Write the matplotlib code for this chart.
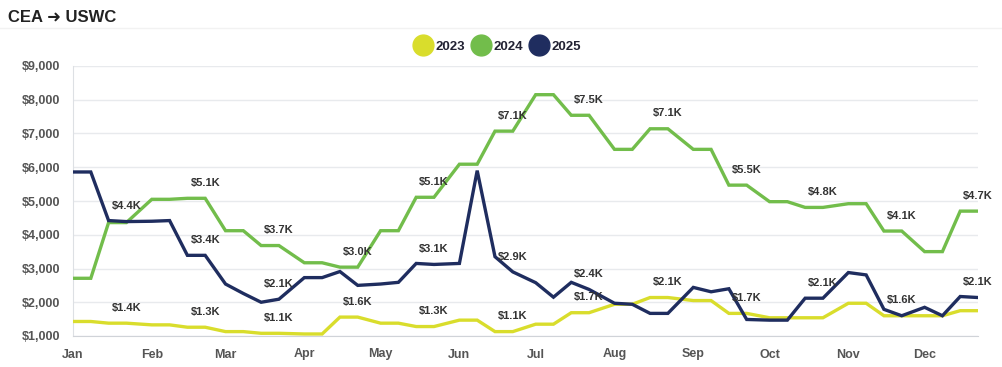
import matplotlib
matplotlib.use("Agg")
import matplotlib.pyplot as plt
import matplotlib.dates as mdates
from matplotlib.lines import Line2D
from matplotlib.ticker import FuncFormatter
import numpy as np

plt.rcParams['font.family'] = ['Liberation Sans', 'DejaVu Sans']

# weekly-ish points: 1st, 8th, 15th, 22nd of each month
days = [1, 8, 15, 22]
dates = [np.datetime64(f"2024-{m:02d}-{d:02d}") for m in range(1, 13) for d in days]

y2023 = [1430, 1430, 1380, 1380, 1330, 1330, 1260, 1260, 1130, 1130, 1080, 1080,
         1060, 1060, 1560, 1560, 1380, 1380, 1280, 1280, 1470, 1470, 1130, 1130,
         1350, 1350, 1690, 1690, 1940, 1940, 2140, 2140, 2050, 2050, 1670, 1670,
         1540, 1540, 1540, 1540, 1970, 1970, 1600, 1600, 1600, 1600, 1750, 1750]
y2024 = [2710, 2710, 4360, 4360, 5050, 5050, 5080, 5080, 4120, 4120, 3680, 3680,
         3170, 3170, 3040, 3040, 4120, 4120, 5110, 5110, 6090, 6090, 7070, 7070,
         8150, 8150, 7540, 7540, 6530, 6530, 7140, 7140, 6530, 6530, 5470, 5470,
         4980, 4980, 4810, 4810, 4920, 4920, 4110, 4110, 3500, 3500, 4700, 4700]
y2025 = [5860, 5860, 4420, 4390, 4400, 4420, 3390, 3390, 2540, 2260, 2000, 2090,
         2730, 2730, 2910, 2500, 2540, 2590, 3150, 3120, 3150, 5900, 3350, 2900,
         2580, 2150, 2590, 2380, 1970, 1940, 1670, 1670, 2440, 2310, 2400, 1490,
         1470, 1470, 2120, 2120, 2880, 2810, 1790, 1600, 1850, 1600, 2170, 2140]

series = {"2023": y2023, "2024": y2024, "2025": y2025}
colors = {"2023": "#d9dd2c", "2024": "#72bd4b", "2025": "#1f2d5f"}

# indices of points that carry a value label (22nd of a month)
labels_2023 = [3, 7, 11, 15, 19, 23, 27, 31, 35, 43]
labels_2024 = [7, 11, 15, 19, 23, 27, 31, 35, 39, 43, 47]
labels_2025 = [3, 7, 11, 19, 23, 27, 39, 47]
label_idx = {"2023": labels_2023, "2024": labels_2024, "2025": labels_2025}

fig = plt.figure(figsize=(10.02, 3.67), dpi=100)
ax = fig.add_axes([73 / 1002, 1 - 336 / 367, (978 - 73) / 1002, 270 / 367])

for name, vals in series.items():
    ax.plot(dates, vals, color=colors[name], lw=2.4, solid_joinstyle='miter', zorder=3)
    for i in label_idx[name]:
        ax.annotate(f"${vals[i] / 1000:.1f}K", (dates[i], vals[i]), xytext=(0, 11),
                    textcoords='offset points', ha='center', va='center',
                    fontsize=8, fontweight='bold', color='#333333', zorder=5)

ax.set_ylim(1000, 9000)
ax.set_yticks(range(1000, 9001, 1000))
ax.yaxis.set_major_formatter(FuncFormatter(lambda v, p: f"${v:,.0f}"))
ax.set_xlim(dates[0], dates[-1])
ax.xaxis.set_major_locator(mdates.MonthLocator())
ax.xaxis.set_major_formatter(mdates.DateFormatter('%b'))
ax.grid(axis='y', color='#e8eaed', lw=1)
ax.set_axisbelow(True)
for s in ['top', 'right']:
    ax.spines[s].set_visible(False)
ax.spines['left'].set_color('#dde0e4')
ax.spines['bottom'].set_color('#d0d3d8')
ax.tick_params(length=0, labelsize=9, labelcolor='#555555')
ax.tick_params(axis='y', pad=9)
ax.tick_params(axis='x', pad=9)
for lab in ax.get_xticklabels() + ax.get_yticklabels():
    lab.set_fontweight('bold')

handles = [Line2D([], [], ls='none', marker='o', markersize=15, color=colors[n]) for n in series]
leg = fig.legend(handles, list(series), loc='center', bbox_to_anchor=(0.497, 1 - 47 / 367),
                 ncol=3, frameon=False, handletextpad=0.35, columnspacing=0.6,
                 handlelength=1.2, prop={'size': 9.5, 'weight': 'bold'})
for t in leg.get_texts():
    t.set_color('#222233')

fig.text(8 / 1002, 1 - 17 / 367, "CEA ➜ USWC", fontsize=12, fontweight='bold',
         color='#222222', va='center', ha='left')
fig.add_artist(Line2D([0, 1], [1 - 28 / 367] * 2, color='#f2f2f2', lw=1))

fig.savefig("out.png", dpi=100)
